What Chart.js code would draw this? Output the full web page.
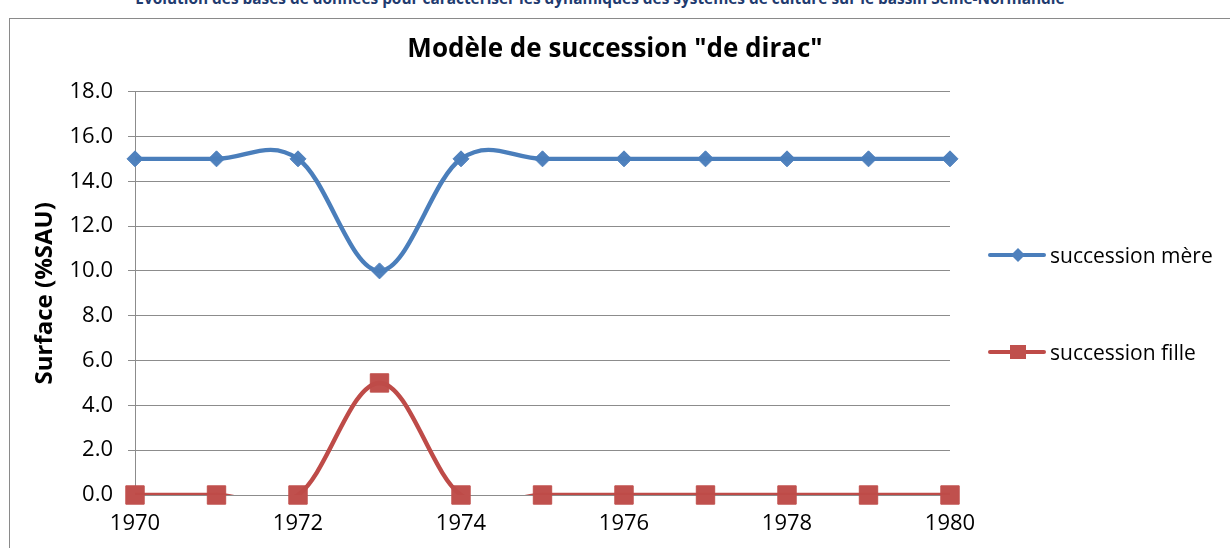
<!DOCTYPE html>
<html>
<head>
<meta charset="utf-8">
<script src="https://cdn.jsdelivr.net/npm/chart.js@4/dist/chart.umd.min.js"></script>
<style>
  html, body { margin: 0; padding: 0; background: #fff; }
  #wrap { position: relative; width: 1230px; height: 548px; overflow: hidden; font-family: "Open Sans", sans-serif; }
  #header { position: absolute; left: 0; width: 1200px; top: -12px; text-align: center; font-weight: bold; font-size: 15.4px; color: #1F3B6F; white-space: nowrap; }
  #frame { position: absolute; left: 9px; top: 18px; width: 1240px; height: 560px; border-left: 1.5px solid #8a8a8a; border-top: 1.5px solid #8a8a8a; }
  #c { position: absolute; left: 0; top: 0; }
  .leg { position: absolute; left: 988px; height: 30px; display: flex; align-items: center; font-size: 21px; color: #000; white-space: nowrap; }
  .leg svg { margin-right: 4px; }
</style>
</head>
<body>
<div id="wrap">
  <div id="header">Evolution des bases de données pour caractériser les dynamiques des systèmes de culture sur le bassin Seine-Normandie</div>
  <div id="frame"></div>
  <canvas id="c" width="1230" height="548"></canvas>
  <div class="leg" id="leg1" style="top:240px;"></div>
  <div class="leg" id="leg2" style="top:337px;"></div>
</div>
<script>
const years = [1970, 1971, 1972, 1973, 1974, 1975, 1976, 1977, 1978, 1979, 1980];
const successionMere = [15, 15, 15, 10, 15, 15, 15, 15, 15, 15, 15];
const successionFille = [0, 0, 0, 5, 0, 0, 0, 0, 0, 0, 0];
const seriesNames = ["succession mère", "succession fille"];
const yTicks = [0, 2, 4, 6, 8, 10, 12, 14, 16, 18];
const xTicks = [1970, 1972, 1974, 1976, 1978, 1980];

const blueLine = '#4A7EBB', blueMark = '#4F81BD';
const redLine = '#BE4B48', redMark = '#C0504D';

function pts(vals) { return years.map((y, i) => ({x: y, y: vals[i]})); }

const font = '"Open Sans", sans-serif';

// Office-style smoothing (uniform Catmull-Rom type Bezier control points)
const officeSmooth = {
  id: 'officeSmooth',
  beforeDatasetDraw(chart, args) {
    const meta = args.meta;
    if (!meta.dataset || !meta.dataset.options || !meta.dataset.options.tension) return;
    const p = meta.data;
    const f = 0.18;
    for (let i = 0; i < p.length; i++) {
      const cur = p[i], prev = p[i - 1] || cur, next = p[i + 1] || cur;
      const dx = next.x - prev.x, dy = next.y - prev.y;
      cur.cp1x = cur.x - f * dx; cur.cp1y = cur.y - f * dy;
      cur.cp2x = cur.x + f * dx; cur.cp2y = cur.y + f * dy;
    }
    meta.dataset._pointsUpdated = true;
    meta.dataset._path = undefined;
  }
};

const chart = new Chart(document.getElementById('c'), {
  type: 'line',
  plugins: [officeSmooth],
  data: {
    datasets: [
      { label: seriesNames[0], data: pts(successionMere), borderColor: blueLine, borderWidth: 4.4, tension: 0.5, capBezierPoints: false, pointRadius: 0, pointHoverRadius: 0, fill: false },
      { label: seriesNames[1], data: pts(successionFille), borderColor: redLine, borderWidth: 4.4, tension: 0.5, capBezierPoints: false, pointRadius: 0, pointHoverRadius: 0, fill: false },
      { label: seriesNames[0] + ' pts', data: pts(successionMere), showLine: false, pointStyle: 'rectRot', pointRadius: 8, backgroundColor: blueMark, borderColor: blueMark, borderWidth: 1, clip: false },
      { label: seriesNames[1] + ' pts', data: pts(successionFille), showLine: false, pointStyle: 'rect', pointRadius: 13, backgroundColor: redMark, borderColor: redMark, borderWidth: 1, clip: false }
    ]
  },
  options: {
    responsive: false,
    animation: false,
    events: [],
    layout: { padding: 0 },
    plugins: {
      legend: { display: false },
      tooltip: { enabled: false },
      title: {
        display: true,
        text: 'Modèle de succession "de dirac"',
        color: '#000',
        font: { family: font, size: 26, weight: 'bold', lineHeight: 1.2 },
        padding: { top: 34, bottom: 26.4 }
      }
    },
    scales: {
      x: {
        type: 'linear',
        min: 1970, max: 1980,
        afterBuildTicks: (s) => { s.ticks = xTicks.map(v => ({value: v})); },
        ticks: { color: '#000', font: { family: font, size: 22 }, padding: 16, callback: v => String(v), maxRotation: 0, autoSkip: false },
        grid: { display: false, drawTicks: false },
        border: { display: false },
        afterFit: (s) => { s.height = 53; }
      },
      y: {
        min: 0, max: 18,
        afterBuildTicks: (s) => { s.ticks = yTicks.map(v => ({value: v})); },
        ticks: { color: '#000', font: { family: font, size: 22 }, padding: 15, callback: v => Number(v).toFixed(1) },
        grid: { color: '#8c8c8c', lineWidth: 1, tickLength: 7 },
        border: { display: true, color: '#8c8c8c', width: 1 },
        title: { display: true, text: 'Surface (%SAU)', color: '#000', font: { family: font, size: 24, weight: 'bold' }, padding: { top: 31, bottom: 0 } },
        afterFit: (s) => { s.width = 135; }
      },
      yRightSpace: {
        position: 'right',
        min: 0, max: 18,
        display: true,
        ticks: { display: false },
        grid: { display: false, drawTicks: false },
        border: { display: false },
        afterFit: (s) => { s.width = 280; }
      }
    }
  }
});

function legendSvg(kind) {
  const col = kind === 0 ? blueLine : redLine;
  const mk = kind === 0
    ? '<polygon points="30,8 37,15 30,22 23,15" fill="' + blueMark + '"/>'
    : '<rect x="22" y="8" width="16" height="14" fill="' + redMark + '"/>';
  return '<svg width="58" height="30" viewBox="0 0 58 30"><line x1="2" y1="15" x2="56" y2="15" stroke="' + col + '" stroke-width="4" stroke-linecap="round"/>' + mk + '</svg>';
}
document.getElementById('leg1').innerHTML = legendSvg(0) + '<span>' + seriesNames[0] + '</span>';
document.getElementById('leg2').innerHTML = legendSvg(1) + '<span>' + seriesNames[1] + '</span>';
</script>
</body>
</html>
